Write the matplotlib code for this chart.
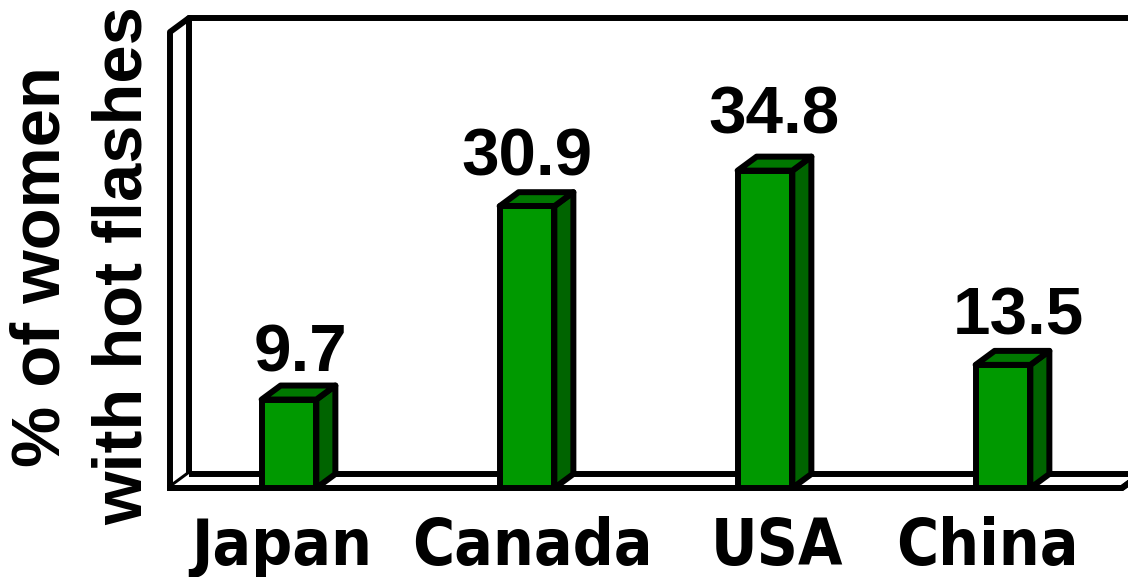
import numpy as np
import matplotlib
matplotlib.use("Agg")
import matplotlib.pyplot as plt
from matplotlib.patches import Polygon
from matplotlib import font_manager

countries = ["Japan", "Canada", "USA", "China"]
values = [9.7, 30.9, 34.8, 13.5]
value_labels = ["9.7", "30.9", "34.8", "13.5"]
ylabel_lines = ["% of women", "with hot flashes"]
ymax = 50

# small hand nudges (pixels) so the labels sit where the original has them
value_dx = [2, -10, 0, 6]
value_dy = [14, 17, 23, 16]
cat_dx = [-7, 5, 12, -16]

# narrow bold font for the category names, if there is one
names = {f.name for f in font_manager.fontManager.ttflist}
cat_family = "DejaVu Sans Condensed" if "DejaVu Sans Condensed" in names else "DejaVu Sans"

W, H = 1128, 577
fig = plt.figure(figsize=(W / 100, H / 100), dpi=100)
# front plane of the 3D box, in pixels
left_px, bottom_px, width_px, height_px = 170, 89, 952, 456
ax = fig.add_axes([left_px / W, bottom_px / H, width_px / W, height_px / H])
ax.set_xlim(-0.5, len(countries) - 0.5)
ax.set_ylim(0, ymax)
ax.axis("off")

# depth of the 3D effect, pixels -> data units
dx = 19 / (width_px / len(countries))
dy = 14 / (height_px / ymax)

lw = 4.3
x0 = -0.5
x1 = len(countries) - 0.5
kw = dict(edgecolor="black", linewidth=lw, joinstyle="round", clip_on=False)

# back wall
ax.add_patch(Polygon([(x0 + dx, dy), (x0 + dx, ymax + dy), (x1 + 1, ymax + dy), (x1 + 1, dy)],
                     closed=False, facecolor="white", **kw))
# left wall
ax.add_patch(Polygon([(x0, 0), (x0, ymax), (x0 + dx, ymax + dy), (x0 + dx, dy)],
                     facecolor="white", **kw))
# floor
ax.add_patch(Polygon([(x0, 0), (x1, 0), (x1 + dx, dy), (x1 + 1, dy), (x0 + dx, dy)],
                     closed=False, facecolor="white", **kw))
ax.plot([x0, x1, x1 + dx], [0, 0, dy], color="black", lw=lw, clip_on=False,
        solid_joinstyle="round")

front_c = "#009900"
top_c = "#007800"
side_c = "#006400"
bw = 0.23
xs = np.arange(len(countries))

for x, v in zip(xs, values):
    l, r = x - bw / 2, x + bw / 2
    ax.add_patch(Polygon([(r, 0), (r + dx, dy), (r + dx, v + dy), (r, v)],
                         facecolor=side_c, **kw))
    ax.add_patch(Polygon([(l, v), (r, v), (r + dx, v + dy), (l + dx, v + dy)],
                         facecolor=top_c, **kw))
ax.bar(xs, values, width=bw, color=front_c, edgecolor="black", linewidth=lw,
       joinstyle="round", clip_on=False, zorder=3)

for x, v, t, ox, oy in zip(xs, values, value_labels, value_dx, value_dy):
    ax.annotate(t, xy=(x + dx / 2, v + dy), xytext=(ox, oy), textcoords="offset pixels",
                ha="center", va="baseline", fontsize=48.5, fontweight="bold",
                family="Liberation Sans")

for x, c, ox in zip(xs, countries, cat_dx):
    ax.annotate(c, xy=(x, 0), xytext=(ox, -77), textcoords="offset pixels",
                ha="center", va="baseline", fontsize=46, fontweight="bold",
                family=cat_family, fontstretch="condensed")

fig.text(41.5 / W, 1 - 267 / H, ylabel_lines[0], rotation=90, ha="center", va="center",
         fontsize=49.5, fontweight="bold", family="Liberation Sans")
fig.text(123.5 / W, 1 - 266 / H, ylabel_lines[1], rotation=90, ha="center", va="center",
         fontsize=49.5, fontweight="bold", family="Liberation Sans")

fig.savefig("out.png", dpi=100)
